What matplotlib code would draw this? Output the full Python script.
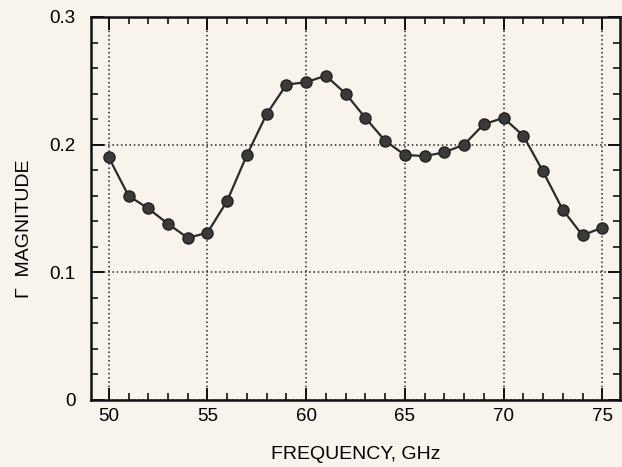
import matplotlib
matplotlib.use("Agg")
import matplotlib.pyplot as plt
from matplotlib.ticker import MultipleLocator, FixedLocator, FuncFormatter

plt.rcParams['font.family'] = ['Liberation Sans', 'DejaVu Sans']

freq = list(range(50, 76))
gamma = [0.190, 0.160, 0.150, 0.138, 0.127, 0.131, 0.156, 0.192, 0.224, 0.247,
         0.249, 0.254, 0.240, 0.221, 0.203, 0.192, 0.191, 0.194, 0.200, 0.216,
         0.221, 0.207, 0.179, 0.149, 0.129, 0.135]

bg = '#f8f4ec'
fig = plt.figure(figsize=(6.22, 4.67), dpi=100, facecolor=bg)
ax = fig.add_axes([0.1463, 0.1435, 0.8505, 0.8201], facecolor=bg)

ax.plot(freq, gamma, '-o', color='#2a2a2a', lw=1.6, ms=8,
        mfc='#3a3a3a', mec='#222222', zorder=3)

ax.set_xlim(49.1, 75.9)
ax.set_ylim(0, 0.3)
ax.xaxis.set_major_locator(FixedLocator([50, 55, 60, 65, 70, 75]))
ax.xaxis.set_minor_locator(MultipleLocator(1))
ax.yaxis.set_major_locator(FixedLocator([0, 0.1, 0.2, 0.3]))
ax.yaxis.set_minor_locator(MultipleLocator(0.02))
ax.yaxis.set_major_formatter(FuncFormatter(lambda v, p: '0' if v == 0 else '%.1f' % v))

ax.tick_params(which='both', direction='in', top=True, right=True,
               color='#111111', labelsize=13.5, labelcolor='#000000')
ax.tick_params(which='major', length=9, width=1.4)
ax.tick_params(which='minor', length=5, width=1.2)
ax.tick_params(axis='x', which='major', pad=6)
ax.tick_params(axis='y', which='major', pad=11)

ax.grid(True, which='major', linestyle=(0, (1, 1.8)), color='#222222', lw=1.1)
for s in ax.spines.values():
    s.set_linewidth(1.8)
    s.set_color('#111111')

ax.set_xlabel('FREQUENCY, GHz', fontsize=14, color='#000000')
ax.xaxis.set_label_coords(0.5, -0.12)
ax.set_ylabel('Γ  MAGNITUDE', fontsize=14, color='#000000')
ax.yaxis.set_label_coords(-0.11, 0.448)

fig.savefig('out.png', dpi=100, facecolor=bg)
